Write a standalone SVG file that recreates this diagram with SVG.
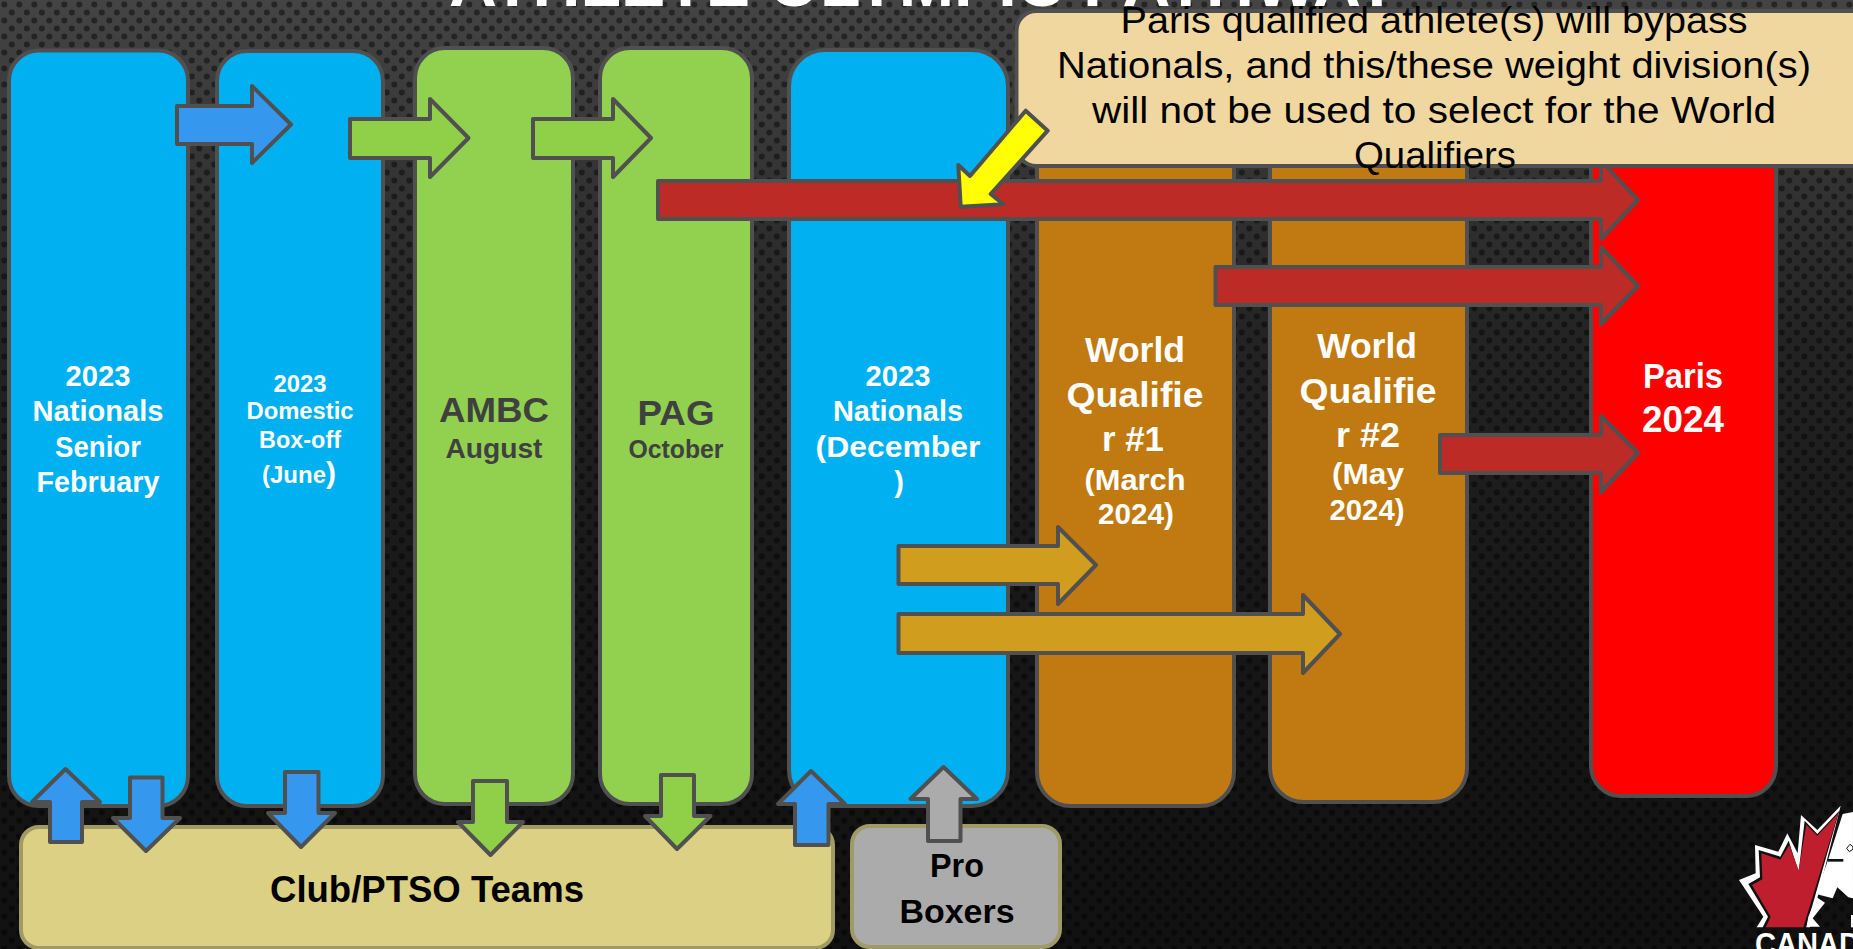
<svg xmlns="http://www.w3.org/2000/svg" width="1853" height="949" viewBox="0 0 1853 949">
<defs>
<linearGradient id="bgGrad" x1="0" y1="0" x2="0" y2="1">
<stop offset="0" stop-color="#444444"/>
<stop offset="0.12" stop-color="#3a3a3a"/>
<stop offset="0.35" stop-color="#242424"/>
<stop offset="0.65" stop-color="#171717"/>
<stop offset="1" stop-color="#111111"/>
</linearGradient>
<pattern id="dots" width="15" height="16" patternUnits="userSpaceOnUse">
<circle cx="4.3" cy="4.5" r="3" fill="#000" fill-opacity="0.45"/>
<circle cx="11.8" cy="12.5" r="3" fill="#000" fill-opacity="0.45"/>
</pattern>
</defs>
<style>
text{font-family:"Liberation Sans",Arial,sans-serif;text-anchor:middle}
.b{font-weight:700}
.w{fill:#fff}
.d{fill:#404040}
.k{fill:#000}
.col,.arr{stroke:#505050;stroke-width:4;stroke-linejoin:round}
.blue{fill:#00B0F0}.green{fill:#92D050}.orange{fill:#C17A12}.red{fill:#FF0000}
.abl{fill:#3697EE}.agr{fill:#8FD048}.ard{fill:#BC2B25}.ago{fill:#D19D1F}.agy{fill:#ABABAB}.aye{fill:#FFFF00}
.tan{stroke:#A09A64;stroke-width:4}
</style>
<rect width="1853" height="949" fill="url(#bgGrad)"/>
<rect width="1853" height="949" fill="url(#dots)"/>
<text id="title" x="924" y="6" class="b w" font-size="64" textLength="950" lengthAdjust="spacingAndGlyphs">ATHLETE OLYMPIC PATHWAY</text>

<g id="node-nationals-feb">
<rect class="col blue" x="9" y="50.5" width="179" height="755.5" rx="30" ry="30"/>
<text class="b w" font-size="29" x="98" y="386" textLength="65" lengthAdjust="spacingAndGlyphs">2023</text>
<text class="b w" font-size="29" x="98" y="421" textLength="131" lengthAdjust="spacingAndGlyphs">Nationals</text>
<text class="b w" font-size="29" x="98" y="457" textLength="86" lengthAdjust="spacingAndGlyphs">Senior</text>
<text class="b w" font-size="29" x="98" y="492" textLength="123" lengthAdjust="spacingAndGlyphs">February</text>
</g>
<g id="node-boxoff">
<rect class="col blue" x="217" y="51" width="166" height="755" rx="30" ry="30"/>
<text class="b w" font-size="24" x="300" y="392" textLength="53" lengthAdjust="spacingAndGlyphs">2023</text>
<text class="b w" font-size="24" x="300" y="419" textLength="107" lengthAdjust="spacingAndGlyphs">Domestic</text>
<text class="b w" font-size="24" x="300" y="448" textLength="82" lengthAdjust="spacingAndGlyphs">Box-off</text>
<text class="b w" font-size="24" x="299" y="483">(June<tspan font-size="30">)</tspan></text>
</g>
<g id="node-ambc">
<rect class="col green" x="415" y="48" width="158" height="756" rx="30" ry="30"/>
<text class="b d" font-size="35" x="494" y="422" textLength="110" lengthAdjust="spacingAndGlyphs">AMBC</text>
<text class="b d" font-size="28" x="494" y="458" textLength="97" lengthAdjust="spacingAndGlyphs">August</text>
</g>
<g id="node-pag">
<rect class="col green" x="600" y="48" width="152" height="756" rx="30" ry="30"/>
<text class="b d" font-size="35" x="676" y="425" textLength="77" lengthAdjust="spacingAndGlyphs">PAG</text>
<text class="b d" font-size="25" x="676" y="458" textLength="95" lengthAdjust="spacingAndGlyphs">October</text>
</g>
<g id="node-nationals-dec">
<rect class="col blue" x="789" y="50" width="219" height="756" rx="36" ry="36"/>
<text class="b w" font-size="29" x="898" y="386" textLength="65" lengthAdjust="spacingAndGlyphs">2023</text>
<text class="b w" font-size="29" x="898" y="421" textLength="130" lengthAdjust="spacingAndGlyphs">Nationals</text>
<text class="b w" font-size="29" x="898" y="457" textLength="165" lengthAdjust="spacingAndGlyphs">(December</text>
<text class="b w" font-size="29" x="899" y="492">)</text>
</g>
<g id="node-wq1">
<rect class="col orange" x="1037" y="60" width="197" height="746" rx="34" ry="34"/>
<text class="b w" font-size="35" x="1135" y="362" textLength="100" lengthAdjust="spacingAndGlyphs">World</text>
<text class="b w" font-size="35" x="1135" y="407" textLength="137" lengthAdjust="spacingAndGlyphs">Qualifie</text>
<text class="b w" font-size="35" x="1133" y="451" textLength="62" lengthAdjust="spacingAndGlyphs">r #1</text>
<text class="b w" font-size="29" x="1135" y="490" textLength="101" lengthAdjust="spacingAndGlyphs">(March</text>
<text class="b w" font-size="29" x="1136" y="524" textLength="76" lengthAdjust="spacingAndGlyphs">2024)</text>
</g>
<g id="node-wq2">
<rect class="col orange" x="1270" y="60" width="197" height="742" rx="34" ry="34"/>
<text class="b w" font-size="35" x="1367" y="358" textLength="100" lengthAdjust="spacingAndGlyphs">World</text>
<text class="b w" font-size="35" x="1368" y="403" textLength="137" lengthAdjust="spacingAndGlyphs">Qualifie</text>
<text class="b w" font-size="35" x="1368" y="447" textLength="64" lengthAdjust="spacingAndGlyphs">r #2</text>
<text class="b w" font-size="29" x="1368" y="484" textLength="72" lengthAdjust="spacingAndGlyphs">(May</text>
<text class="b w" font-size="29" x="1367" y="520" textLength="75" lengthAdjust="spacingAndGlyphs">2024)</text>
</g>
<g id="node-paris">
<rect class="col red" x="1591" y="60" width="185" height="736" rx="30" ry="30"/>
<text class="b w" font-size="35" x="1683" y="388" textLength="80" lengthAdjust="spacingAndGlyphs">Paris</text>
<text class="b w" font-size="36" x="1683" y="432" textLength="82" lengthAdjust="spacingAndGlyphs">2024</text>
</g>
<g id="node-club">
<rect class="tan" x="21" y="827" width="812" height="121" rx="18" ry="18" fill="#DBD083"/>
<text class="b k" font-size="36" x="427" y="902" textLength="314" lengthAdjust="spacingAndGlyphs">Club/PTSO Teams</text>
</g>
<g id="node-pro">
<rect class="tan" x="852" y="826" width="208" height="121" rx="18" ry="18" fill="#ABABAB"/>
<text class="b k" font-size="34" x="957" y="877" textLength="54" lengthAdjust="spacingAndGlyphs">Pro</text>
<text class="b k" font-size="34" x="957" y="923" textLength="115" lengthAdjust="spacingAndGlyphs">Boxers</text>
</g>
<g id="node-callout">
<rect x="1016.5" y="11" width="860" height="155" rx="20" ry="20" fill="#F0D7A0" stroke="#505050" stroke-width="4"/>
<text class="k" font-size="36" x="1434" y="33" textLength="627" lengthAdjust="spacingAndGlyphs">Paris qualified athlete(s) will bypass</text>
<text class="k" font-size="36" x="1434" y="78" textLength="754" lengthAdjust="spacingAndGlyphs">Nationals, and this/these weight division(s)</text>
<text class="k" font-size="36" x="1434" y="123" textLength="684" lengthAdjust="spacingAndGlyphs">will not be used to select for the World</text>
<text class="k" font-size="36" x="1435" y="168" textLength="162" lengthAdjust="spacingAndGlyphs">Qualifiers</text>
</g>

<g id="connectors">
<polygon class="arr abl" points="177,106 252,106 252,86 291,124.5 252,163 252,144 177,144"/>
<polygon class="arr agr" points="350,119 430,119 430,99 468.5,138 430,177 430,158 350,158"/>
<polygon class="arr agr" points="533,119 613,119 613,99 651,138 613,177 613,158 533,158"/>
<polygon class="arr ard" points="658,181 1601,181 1601,166 1606,166 1638,200 1601,239 1601,219 658,219"/>
<polygon class="arr ard" points="1215.5,267 1601,267 1601,247 1638,286 1601,324 1601,305 1215.5,305"/>
<polygon class="arr ard" points="1440,435 1601,435 1601,416 1638,453 1601,492 1601,473 1440,473"/>
<polygon class="arr ago" points="898.5,546 1058,546 1058,527 1096,565 1058,604 1058,584 898.5,584"/>
<polygon class="arr ago" points="898.5,614 1303,614 1303,595 1340,634 1303,673 1303,653 898.5,653"/>
<polygon class="arr abl" points="65.5,769 100,802 82,802 82,842 50,842 50,802 32,802"/>
<polygon class="arr abl" points="130,777.5 162.5,777.5 162.5,818 180,818 146,851 113,818 130,818"/>
<polygon class="arr abl" points="285,772 318.5,772 318.5,813 335,813 301,847 268,813 285,813"/>
<polygon class="arr agr" points="473,781 507,781 507,822 523,822 490.5,855 458,822 473,822"/>
<polygon class="arr agr" points="661,775 694,775 694,816 710.5,816 677,849 645,816 661,816"/>
<polygon class="arr abl" points="811,771 845,804 828.5,804 828.5,845 795,845 795,804 778,804"/>
<polygon class="arr agy" points="943.5,767 977,799 960.5,799 960.5,841 928,841 928,799 910.5,799"/>
<polygon class="arr aye" points="1025.7,110.7 1047.7,130.7 990.7,194 1003.3,204.3 960.7,206.7 958.3,165 970,176"/>
</g>

<g id="logo">
<g transform="translate(1700 790) scale(0.3333)">
<polygon fill="#fff" points="422,47 352,120 303,75 293,190 262,130 235,185 165,165 167,250 117,270 190,380 170,412 330,412"/>
<polygon fill="#111" points="418,62 352,132 314,92 296,246 266,152 241,200 176,180 180,262 145,282 204,380 187,414 318,414"/>
<polygon fill="#BE1E2D" points="415,70 352,137 319,104 296,240 268,165 241,209 184,190 187,268 156,285 212,380 197,412 310,412"/>
<polygon fill="#fff" points="428,72 459,66 459,325 445,322 412,292 398,325 348,312 386,205"/>
<polygon fill="#fff" points="350,322 375,338 338,385 360,410 320,410 325,380"/>
<rect x="453" y="375" width="6" height="37" fill="#fff"/>
<rect x="384" y="207" width="46" height="8" fill="#111"/>
<polygon fill="none" stroke="#111" stroke-width="3" points="440,175 450,163 459,170 459,178 448,185"/>
</g>
<text class="b w" font-size="32" x="1755" y="955" style="text-anchor:start" textLength="126" lengthAdjust="spacingAndGlyphs">CANADA</text>
</g>
</svg>
